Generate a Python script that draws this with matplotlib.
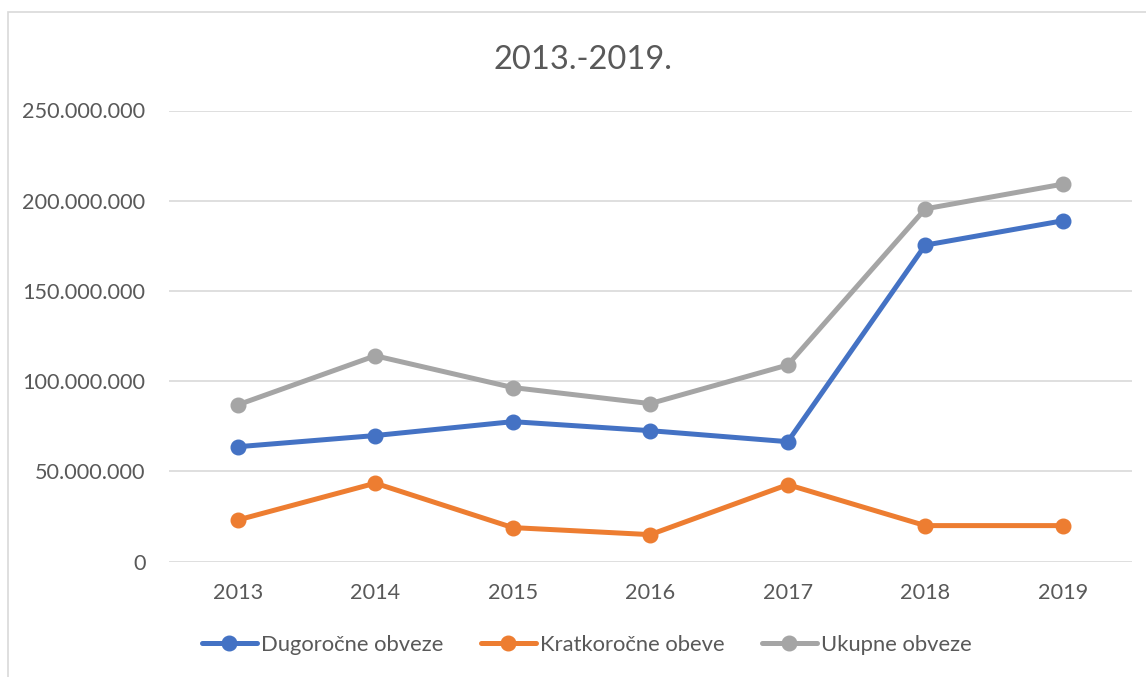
import matplotlib.pyplot as plt
from matplotlib.ticker import FuncFormatter
from matplotlib.patches import Rectangle

years = ['2013', '2014', '2015', '2016', '2017', '2018', '2019']
dugorocne = [63.7e6, 69.9e6, 77.6e6, 72.6e6, 66.5e6, 175.4e6, 188.9e6]
kratkorocne = [23.1e6, 43.5e6, 18.9e6, 15.0e6, 42.7e6, 20.0e6, 20.0e6]
ukupne = [86.9e6, 114.1e6, 96.5e6, 87.6e6, 109.0e6, 195.5e6, 209.2e6]
labels = ['Dugoročne obveze', 'Kratkoročne obeve', 'Ukupne obveze']
colors = ['#4472C4', '#ED7D31', '#A5A5A5']

plt.rcParams['font.family'] = ['Lato', 'DejaVu Sans']
text_col = '#595959'

fig = plt.figure(figsize=(11.46, 6.77), dpi=100)
# chart frame, cut off at right and bottom like the screenshot
fig.patches.append(Rectangle((8 / 1146, -0.05), 1.2, 1 - 12 / 677 + 0.05,
                             transform=fig.transFigure, fill=False,
                             edgecolor='#D9D9D9', linewidth=1.2))

ax = fig.add_axes([169 / 1146, 1 - 561.7 / 677, (1131.5 - 169) / 1146, (561.7 - 110.5) / 677])
x = range(len(years))
for vals, c, lab in zip([dugorocne, kratkorocne, ukupne], colors, labels):
    ax.plot(x, vals, color=c, linewidth=3.6, marker='o', markersize=10.5,
            label=lab, solid_capstyle='round')

ax.set_xlim(-0.5, len(years) - 0.5)
ax.set_ylim(0, 250e6)
ax.set_yticks([0, 50e6, 100e6, 150e6, 200e6, 250e6])
ax.yaxis.set_major_formatter(FuncFormatter(lambda v, p: f'{int(v):,}'.replace(',', '.')))
ax.set_xticks(list(x))
ax.set_xticklabels(years)
ax.grid(axis='y', color='#D9D9D9', linewidth=1.2)
ax.set_axisbelow(True)
for s in ax.spines.values():
    s.set_visible(False)
ax.tick_params(length=0, labelsize=15.6, labelcolor=text_col)
ax.tick_params(axis='y', pad=17)
ax.tick_params(axis='x', pad=15)

fig.text(583 / 1146, 1 - 60 / 677, '2013.-2019.', ha='center', va='center',
         fontsize=23.5, color=text_col)

leg = fig.legend(loc='center', bbox_to_anchor=(587 / 1146, 1 - 645 / 677), ncol=3,
                 frameon=False, fontsize=15.8, handlelength=2.5, handletextpad=0.2,
                 columnspacing=1.7, labelcolor=text_col)

fig.savefig('out.png', dpi=100)
